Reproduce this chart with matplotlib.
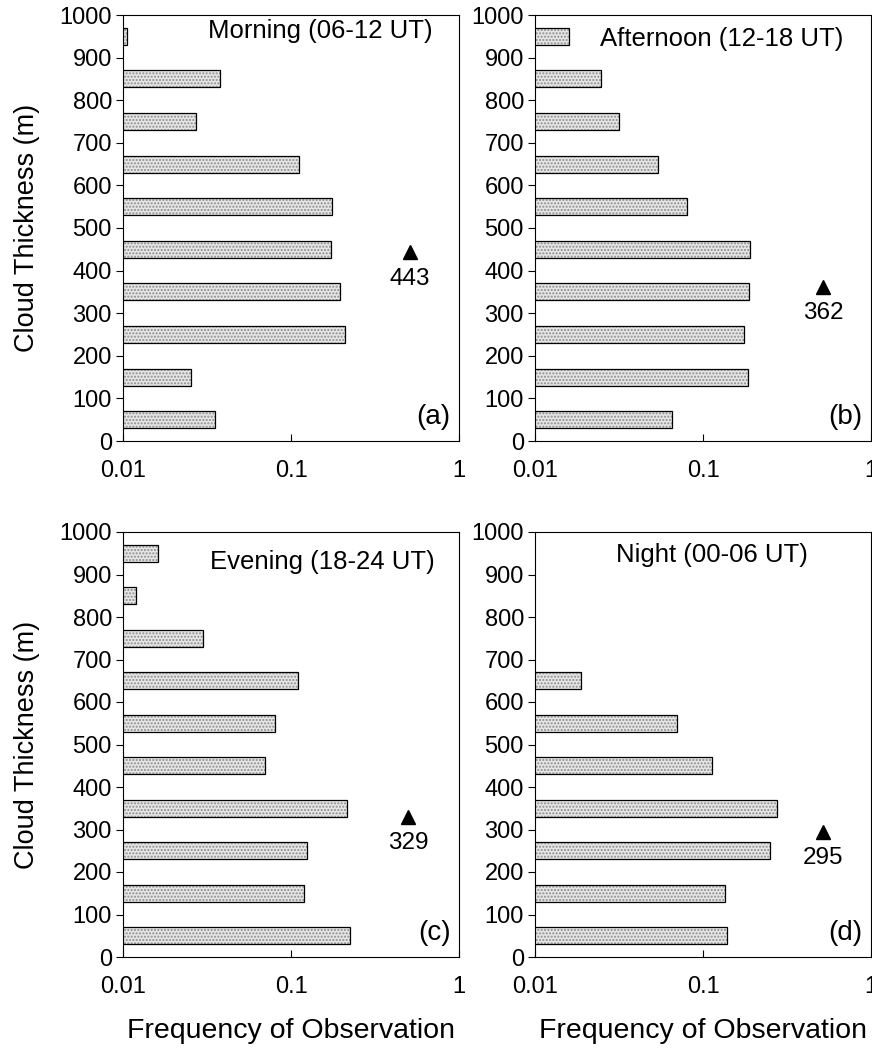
import numpy as np
import matplotlib
matplotlib.use('Agg')
import matplotlib.pyplot as plt

plt.rcParams['font.family'] = ['Liberation Sans', 'DejaVu Sans']

# =============================================================================
# Data
# =============================================================================

thickness = [50, 150, 250, 350, 450, 550, 650, 750, 850, 950]

morning   = [0.0355, 0.0253, 0.211, 0.195, 0.174, 0.176, 0.112, 0.0271, 0.038, 0.0105]
afternoon = [0.065, 0.186, 0.176, 0.187, 0.190, 0.080, 0.0537, 0.0316, 0.0246, 0.0159]
evening   = [0.223, 0.119, 0.124, 0.214, 0.070, 0.080, 0.110, 0.0301, 0.0119, 0.0161]
night     = [0.139, 0.135, 0.252, 0.277, 0.113, 0.070, 0.0188, 0, 0, 0]

titles = ['Morning (06-12 UT)', 'Afternoon (12-18 UT)', 'Evening (18-24 UT)', 'Night (00-06 UT)']
panel_tags = ['(a)', '(b)', '(c)', '(d)']
mean_thick = [443, 362, 329, 295]
mean_x = [0.51, 0.52, 0.50, 0.52]

series = [morning, afternoon, evening, night]

# title placement per panel (axes fraction)
title_pos = [(0.586, 0.962), (0.557, 0.943), (0.592, 0.93), (0.527, 0.945)]

# =============================================================================
# Figure
# =============================================================================

fig = plt.figure(figsize=(8.72, 10.49), dpi=100)
W, H = 872., 1049.
boxes = [(123, 15, 336, 426), (535, 15, 336, 426),
         (123, 532, 336, 425), (535, 532, 336, 425)]

for i in range(4):
    l, t, w, h = boxes[i]
    ax = fig.add_axes([l / W, 1 - (t + h) / H, w / W, h / H])
    ax.set_xscale('log')

    y = np.array(thickness)
    v = np.array(series[i], dtype=float)
    keep = v > 0
    # dotted grey fill, then black outline on top
    ax.barh(y[keep], v[keep], height=40, color='#e6e6e6',
            edgecolor='#8c8c8c', hatch='.....', lw=0, zorder=2)
    ax.barh(y[keep], v[keep], height=40, fill=False,
            edgecolor='black', lw=0.9, zorder=3)
    ax.set_xlim(0.01, 1)
    ax.set_ylim(0, 1000)

    ax.plot([mean_x[i]], [mean_thick[i]], marker='^', ms=9.5, color='black', ls='none', zorder=4)
    ax.annotate('%i' % mean_thick[i], (mean_x[i], mean_thick[i]), xytext=(0, -11),
                textcoords='offset points', ha='center', va='top', fontsize=17.5)

    ax.text(title_pos[i][0], title_pos[i][1], titles[i], transform=ax.transAxes,
            ha='center', va='center', fontsize=18.5)
    ax.text(0.975, 0.025, panel_tags[i], transform=ax.transAxes,
            ha='right', va='bottom', fontsize=20)

    ax.set_yticks(range(0, 1001, 100))
    ax.set_xticks([0.01, 0.1, 1])
    ax.set_xticklabels(['0.01', '0.1', '1'])
    ax.xaxis.set_minor_locator(matplotlib.ticker.NullLocator())
    ax.tick_params(axis='y', direction='out', length=5, width=0.8, labelsize=17, pad=3)
    ax.tick_params(axis='x', direction='in', length=5, width=0.8, labelsize=17, pad=14)
    for sp in ax.spines.values():
        sp.set_linewidth(0.8)

    if i % 2 == 0:
        ax.set_ylabel('Cloud Thickness (m)', fontsize=19.5, labelpad=14)
    if i >= 2:
        ax.set_xlabel('Frequency of Observation', fontsize=20.5, labelpad=14)

plt.savefig('out.png', dpi=100)
